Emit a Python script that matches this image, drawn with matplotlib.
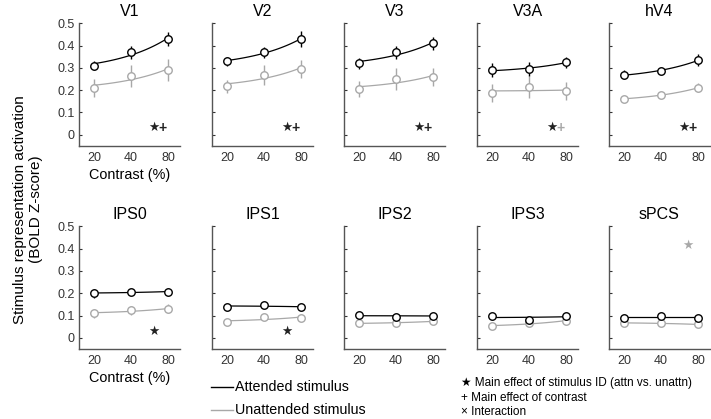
import numpy as np
import matplotlib
matplotlib.use('Agg')
import matplotlib.pyplot as plt
from matplotlib.lines import Line2D

plt.rcParams['font.family'] = ['Liberation Sans', 'DejaVu Sans']

# ROI names, top row then bottom row
rois = ['V1', 'V2', 'V3', 'V3A', 'hV4', 'IPS0', 'IPS1', 'IPS2', 'IPS3', 'sPCS']
contrast = [20, 40, 80]

# mean BOLD Z-score, attended / unattended
att = [
    [0.31, 0.37, 0.43],
    [0.33, 0.37, 0.43],
    [0.32, 0.37, 0.41],
    [0.29, 0.295, 0.325],
    [0.27, 0.285, 0.335],
    [0.20, 0.205, 0.207],
    [0.14, 0.146, 0.138],
    [0.103, 0.093, 0.10],
    [0.098, 0.082, 0.098],
    [0.088, 0.098, 0.09],
]
unatt = [
    [0.21, 0.265, 0.29],
    [0.217, 0.27, 0.295],
    [0.204, 0.25, 0.26],
    [0.186, 0.214, 0.195],
    [0.16, 0.18, 0.21],
    [0.11, 0.123, 0.13],
    [0.07, 0.092, 0.09],
    [0.067, 0.065, 0.075],
    [0.052, 0.067, 0.076],
    [0.067, 0.065, 0.06],
]
# error bars (half length)
att_err = [
    [0.02, 0.03, 0.03],
    [0.02, 0.025, 0.035],
    [0.025, 0.03, 0.03],
    [0.03, 0.03, 0.025],
    [0.02, 0.01, 0.025],
    [0.02, 0.015, 0.015],
    [0.008, 0.01, 0.008],
    [0.01, 0.008, 0.008],
    [0.008, 0.008, 0.008],
    [0.008, 0.008, 0.008],
]
unatt_err = [
    [0.04, 0.05, 0.05],
    [0.03, 0.045, 0.04],
    [0.035, 0.05, 0.04],
    [0.04, 0.05, 0.04],
    [0.015, 0.01, 0.02],
    [0.02, 0.02, 0.02],
    [0.008, 0.01, 0.008],
    [0.008, 0.008, 0.008],
    [0.008, 0.008, 0.008],
    [0.008, 0.008, 0.008],
]
# significance symbols: (symbol, colour key, x pos, y value)
sig = [
    [('★', 'k', 2.62, 0.03), ('+', 'k', 2.85, 0.03)],
    [('★', 'k', 2.62, 0.03), ('+', 'k', 2.85, 0.03)],
    [('★', 'k', 2.62, 0.03), ('+', 'k', 2.85, 0.03)],
    [('★', 'k', 2.62, 0.03), ('+', 'g', 2.85, 0.03)],
    [('★', 'k', 2.62, 0.03), ('+', 'k', 2.85, 0.03)],
    [('★', 'k', 2.62, 0.025)],
    [('★', 'k', 2.62, 0.025)],
    [],
    [],
    [('★', 'g', 2.73, 0.41)],
]

BLACK = '#000000'
GRAY = '#a8a8a8'
cols = {'k': '#222222', 'g': GRAY}

fig = plt.figure(figsize=(7.11, 4.19), dpi=100)

lefts = [0.1111, 0.2982, 0.4838, 0.6709, 0.8565]
bottoms = [0.6516, 0.167]
w, h = 0.142, 0.293

xpos = np.log2(np.array(contrast) / 20) + 1
cfine = np.linspace(20, 80, 100)
xfine = np.log2(cfine / 20) + 1

for i, name in enumerate(rois):
    row, col = divmod(i, 5)
    ax = fig.add_axes([lefts[col], bottoms[row], w, h])
    for vals, errs, c in [(unatt[i], unatt_err[i], GRAY), (att[i], att_err[i], BLACK)]:
        p = np.polyfit(contrast, vals, 1)
        ax.plot(xfine, np.polyval(p, cfine), color=c, lw=0.9, zorder=2)
        ax.errorbar(xpos, vals, yerr=errs, fmt='none', ecolor=c, elinewidth=1.0, zorder=3)
        ax.plot(xpos, vals, 'o', ms=5.4, mfc='white', mec=c, mew=1.0, zorder=4)
    for s, ck, xx, yy in sig[i]:
        ax.text(xx, yy, s, color=cols[ck], fontsize=9 if s == '★' else 10,
                ha='center', va='center', fontweight='bold' if s == '+' else 'normal')
    ax.set_xlim(0.595, 3.32)
    ax.set_ylim(-0.05, 0.5)
    ax.set_xticks(xpos)
    ax.set_xticklabels([str(c) for c in contrast])
    ax.set_yticks([0, 0.1, 0.2, 0.3, 0.4, 0.5])
    ax.tick_params(direction='in', length=2.5, labelsize=9, colors='#333333', pad=3)
    ax.tick_params(axis='x', length=0, pad=4)
    if col == 0:
        ax.set_yticklabels(['0', '0.1', '0.2', '0.3', '0.4', '0.5'])
        ax.set_xlabel('Contrast (%)', fontsize=10.4, labelpad=3)
    else:
        ax.set_yticklabels([])
    for sp in ['top', 'right']:
        ax.spines[sp].set_visible(False)
    for sp in ['left', 'bottom']:
        ax.spines[sp].set_color('#555555')
        ax.spines[sp].set_linewidth(1.0)
    ax.set_title(name, fontsize=11.5, pad=5)

fig.text(0.039, 0.5, 'Stimulus representation activation\n(BOLD Z-score)',
         rotation=90, ha='center', va='center', fontsize=11, linespacing=1.15)

# line legend
for yy, c, lab in [(387, BLACK, 'Attended stimulus'), (410, GRAY, 'Unattended stimulus')]:
    yf = 1 - yy / 419
    fig.add_artist(Line2D([211 / 711, 233 / 711], [yf, yf], color=c, lw=1.0,
                          transform=fig.transFigure))
    fig.text(235 / 711, yf, lab, ha='left', va='center', fontsize=10.3)

# symbol legend
for yy, lab in [(382.7, '★ Main effect of stimulus ID (attn vs. unattn)'),
                (397.7, '+ Main effect of contrast'),
                (412, '× Interaction')]:
    fig.text(461 / 711, 1 - yy / 419, lab, ha='left', va='center', fontsize=8.5)

fig.savefig('out.png', dpi=100)
